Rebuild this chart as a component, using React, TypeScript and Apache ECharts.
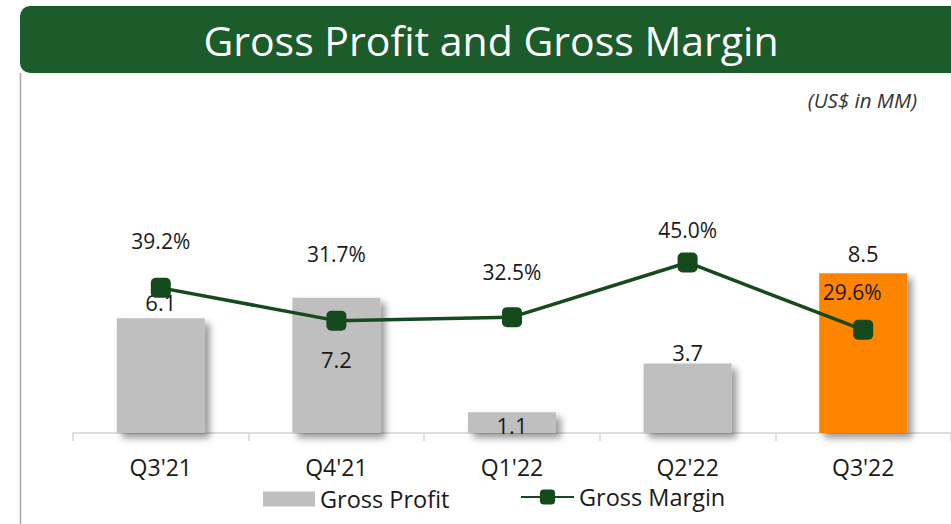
import React, { useEffect, useRef } from "react";
import * as echarts from "echarts";

const categories = ["Q3'21", "Q4'21", "Q1'22", "Q2'22", "Q3'22"];
const grossProfit = [6.1, 7.2, 1.1, 3.7, 8.5];
const grossMargin = [39.2, 31.7, 32.5, 45.0, 29.6];

const FONT = "'Open Sans', 'Noto Sans', sans-serif";
const TEXT = "#1a1a1a";
const GREEN = "#1b5c2a";
const LINE_GREEN = "#154a1c";
const GRAY = "#bfbfbf";
const ORANGE = "#ff8500";

export default function App() {
  const ref = useRef<HTMLDivElement>(null);

  useEffect(() => {
    if (!ref.current) return;
    const chart = echarts.init(ref.current, undefined, { renderer: "svg" });

    // per-bar label placement (as in the original layout)
    const barLabelCfg = [
      { position: "top", distance: 5 },
      { position: "insideTop", distance: 50 },
      { position: "insideTop", distance: 2 },
      { position: "top", distance: 0 },
      { position: "top", distance: 9 },
    ];
    const lineLabelCfg = [
      { distance: 26, offset: [0, 0] },
      { distance: 46, offset: [0, 0] },
      { distance: 25, offset: [0, 0] },
      { distance: 12, offset: [0, 0] },
      { distance: 17, offset: [-11, 0] },
    ];

    const barData = grossProfit.map((v, i) => ({
      value: v,
      itemStyle: i === grossProfit.length - 1 ? { color: ORANGE } : undefined,
      label: {
        position: barLabelCfg[i].position,
        distance: barLabelCfg[i].distance,
      },
    }));

    const lineData = grossMargin.map((v, i) => ({
      value: v,
      label: {
        distance: lineLabelCfg[i].distance,
        offset: lineLabelCfg[i].offset,
      },
    }));

    const legendText = { fontSize: 23.5, color: TEXT, fontFamily: FONT };

    chart.setOption({
      animation: false,
      backgroundColor: "#ffffff",
      textStyle: { fontFamily: FONT },
      graphic: [
        {
          type: "rect",
          shape: { x: 20, y: 6, width: 960, height: 67, r: 10 },
          style: { fill: GREEN },
          z: 10,
        },
        {
          type: "text",
          x: 491,
          y: 40,
          style: {
            text: "Gross Profit and Gross Margin",
            fill: "#ffffff",
            font: `normal 41px ${FONT}`,
            textAlign: "center",
            textVerticalAlign: "middle",
          },
          z: 11,
        },
        {
          type: "line",
          shape: { x1: 20.5, y1: 73, x2: 20.5, y2: 524 },
          style: { stroke: "#a6a6a6", lineWidth: 1.5 },
          z: 10,
        },
        {
          type: "text",
          x: 917,
          y: 100,
          style: {
            text: "(US$ in MM)",
            fill: "#333333",
            font: `italic normal 20.5px ${FONT}`,
            textAlign: "right",
            textVerticalAlign: "middle",
          },
          z: 10,
        },
      ],
      legend: [
        {
          left: 263,
          top: 487,
          padding: 0,
          itemWidth: 52,
          itemHeight: 15,
          itemGap: 6,
          textStyle: legendText,
          itemStyle: { shadowBlur: 0, shadowOffsetX: 0, shadowOffsetY: 0 },
          data: [{ name: "Gross Profit", icon: "rect" }],
        },
        {
          left: 520,
          top: 485,
          padding: 0,
          itemWidth: 53,
          itemHeight: 19,
          textStyle: legendText,
          data: [{ name: "Gross Margin" }],
        },
      ],
      grid: { left: 73, right: 0, top: 245, bottom: 91, containLabel: false },
      xAxis: {
        type: "category",
        data: categories,
        boundaryGap: true,
        axisLine: { show: true, lineStyle: { color: "#d4d4d4", width: 1.5 } },
        axisTick: { show: true, length: 8, lineStyle: { color: "#d4d4d4", width: 1.5 } },
        axisLabel: { fontSize: 23, color: TEXT, margin: 22, fontFamily: FONT },
        splitLine: { show: false },
      },
      yAxis: [
        { type: "value", min: 0, max: 10, show: false, splitLine: { show: false } },
        { type: "value", min: 6, max: 49, show: false, splitLine: { show: false } },
      ],
      series: [
        {
          name: "Gross Profit",
          type: "bar",
          yAxisIndex: 0,
          barWidth: 88,
          data: barData,
          itemStyle: {
            color: GRAY,
            shadowColor: "rgba(0,0,0,0.4)",
            shadowBlur: 7,
            shadowOffsetX: 5,
            shadowOffsetY: 5,
          },
          label: {
            show: true,
            color: TEXT,
            fontSize: 22,
            fontFamily: FONT,
            formatter: (p: any) => Number(p.value).toFixed(1),
          },
          z: 2,
        },
        {
          name: "Gross Margin",
          type: "line",
          yAxisIndex: 1,
          data: lineData,
          symbol: "roundRect",
          symbolSize: 20,
          lineStyle: { color: LINE_GREEN, width: 3.5 },
          itemStyle: { color: LINE_GREEN },
          label: {
            show: true,
            position: "top",
            color: TEXT,
            fontSize: 21,
            fontFamily: FONT,
            formatter: (p: any) => Number(p.value).toFixed(1) + "%",
          },
          z: 3,
        },
      ],
    });

    return () => chart.dispose();
  }, []);

  return (
    <div
      ref={ref}
      style={{ position: "absolute", left: 0, top: 0, width: 951, height: 524 }}
    />
  );
}
